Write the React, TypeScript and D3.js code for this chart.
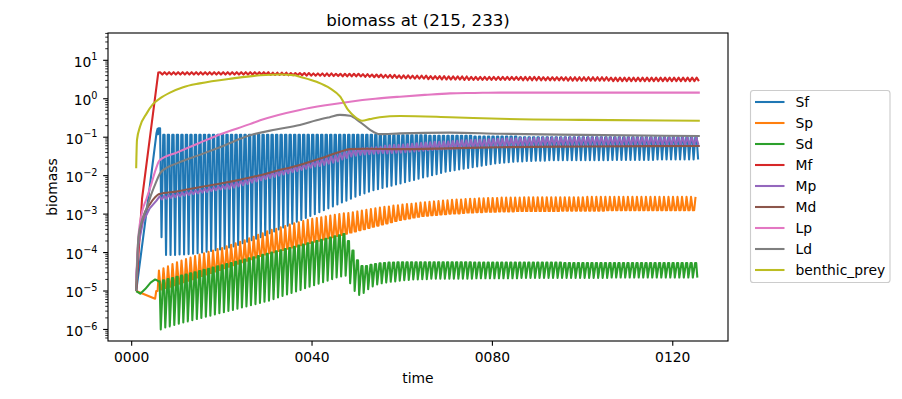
import React from "react";
import * as d3 from "d3";

// ---------- data (values are log10 of biomass) ----------
const seriesNames = ["Sf", "Sp", "Sd", "Mf", "Mp", "Md", "Lp", "Ld", "benthic_prey"];
const seriesColors = ["#1f77b4", "#ff7f0e", "#2ca02c", "#d62728", "#9467bd", "#8c564b", "#e377c2", "#7f7f7f", "#bcbd22"];
const xTickYears = [0, 40, 80, 120];
const xTickLabels = ["0000", "0040", "0080", "0120"];
const yTickExponents = [-6, -5, -4, -3, -2, -1, 0, 1];

const cycleStartYear = 6; // seasonal cycles: one high and one low value per year, years 6..125

// Sf
const sfLead = [[1.0, -5.0], [4.0, -2.3], [5.5, -0.9], [5.75, -0.78], [5.85, -0.92]];
const sfPeak = [
  -0.77, -0.94, -0.94, -0.94, -0.94, -0.94, -0.94, -0.94, -0.94, -0.94,
  -0.94, -0.94, -0.94, -0.94, -0.94, -0.94, -0.94, -0.94, -0.94, -0.94,
  -0.94, -0.94, -0.94, -0.94, -0.94, -0.94, -0.94, -0.94, -0.94, -0.94,
  -0.94, -0.94, -0.94, -0.94, -0.94, -0.94, -0.94, -0.94, -0.94, -0.94,
  -0.94, -0.94, -0.94, -0.94, -0.94, -0.94, -0.94, -0.94, -0.94, -0.94,
  -0.95, -0.95, -0.95, -0.95, -0.95, -0.95, -0.95, -0.95, -0.95, -0.95,
  -0.96, -0.96, -0.96, -0.96, -0.96, -0.96, -0.96, -0.96, -0.96, -0.96,
  -0.98, -0.98, -0.98, -0.98, -0.98, -0.98, -0.98, -0.98, -0.98, -0.98,
  -1.0, -1.0, -1.0, -1.0, -1.0, -1.0, -1.0, -1.0, -1.0, -1.0,
  -1.0, -1.0, -1.0, -1.0, -1.0, -1.0, -1.0, -1.0, -1.0, -1.0,
  -1.0, -1.0, -1.0, -1.0, -1.0, -1.0, -1.0, -1.0, -1.0, -1.0,
  -1.0, -1.0, -1.0, -1.0, -1.0, -1.0, -1.0, -1.0, -1.0, -1.0,
];
const sfTrough = [
  -3.6, -4.06, -4.06, -4.06, -4.05, -4.05, -4.04, -4.03, -4.02, -4.0,
  -3.98, -3.96, -3.94, -3.92, -3.9, -3.87, -3.84, -3.8, -3.76, -3.72,
  -3.68, -3.64, -3.6, -3.55, -3.5, -3.45, -3.4, -3.35, -3.3, -3.25,
  -3.2, -3.15, -3.1, -3.05, -3.0, -2.95, -2.9, -2.85, -2.8, -2.75,
  -2.7, -2.65, -2.6, -2.55, -2.5, -2.46, -2.42, -2.38, -2.35, -2.32,
  -2.29, -2.26, -2.23, -2.2, -2.17, -2.14, -2.11, -2.08, -2.05, -2.02,
  -1.99, -1.96, -1.93, -1.9, -1.88, -1.86, -1.84, -1.82, -1.8, -1.78,
  -1.76, -1.74, -1.72, -1.7, -1.68, -1.67, -1.66, -1.65, -1.64, -1.63,
  -1.63, -1.62, -1.62, -1.61, -1.61, -1.61, -1.6, -1.6, -1.6, -1.6,
  -1.6, -1.6, -1.6, -1.6, -1.6, -1.6, -1.6, -1.6, -1.6, -1.6,
  -1.59, -1.59, -1.59, -1.59, -1.59, -1.59, -1.59, -1.59, -1.59, -1.59,
  -1.58, -1.58, -1.58, -1.58, -1.58, -1.58, -1.58, -1.58, -1.58, -1.58,
];

// Sp
const spLead = [[1.0, -5.0], [5.2, -5.2]];
const spPeak = [
  -4.47, -4.41, -4.36, -4.3, -4.25, -4.21, -4.17, -4.13, -4.09, -4.05,
  -4.02, -3.98, -3.95, -3.91, -3.88, -3.84, -3.8, -3.76, -3.72, -3.68,
  -3.63, -3.59, -3.54, -3.5, -3.45, -3.41, -3.38, -3.34, -3.31, -3.27,
  -3.24, -3.21, -3.18, -3.15, -3.12, -3.1, -3.08, -3.06, -3.04, -3.02,
  -3.0, -2.98, -2.97, -2.95, -2.93, -2.91, -2.89, -2.87, -2.85, -2.83,
  -2.81, -2.8, -2.78, -2.77, -2.75, -2.74, -2.73, -2.72, -2.7, -2.69,
  -2.68, -2.67, -2.66, -2.65, -2.64, -2.63, -2.62, -2.62, -2.61, -2.6,
  -2.6, -2.59, -2.59, -2.58, -2.58, -2.58, -2.57, -2.57, -2.57, -2.57,
  -2.57, -2.56, -2.56, -2.56, -2.56, -2.56, -2.56, -2.56, -2.56, -2.56,
  -2.56, -2.56, -2.56, -2.56, -2.56, -2.55, -2.55, -2.55, -2.55, -2.55,
  -2.55, -2.55, -2.55, -2.55, -2.55, -2.55, -2.55, -2.55, -2.55, -2.55,
  -2.55, -2.55, -2.55, -2.55, -2.55, -2.55, -2.55, -2.55, -2.55, -2.55,
];
const spTrough = [
  -5.0, -4.96, -4.92, -4.89, -4.85, -4.81, -4.77, -4.73, -4.69, -4.65,
  -4.61, -4.57, -4.53, -4.49, -4.45, -4.41, -4.37, -4.33, -4.29, -4.25,
  -4.21, -4.17, -4.13, -4.09, -4.05, -4.02, -3.99, -3.96, -3.93, -3.9,
  -3.87, -3.84, -3.81, -3.78, -3.75, -3.72, -3.69, -3.66, -3.63, -3.6,
  -3.57, -3.54, -3.51, -3.48, -3.45, -3.42, -3.39, -3.36, -3.33, -3.3,
  -3.27, -3.24, -3.21, -3.18, -3.15, -3.13, -3.11, -3.09, -3.07, -3.05,
  -3.04, -3.03, -3.02, -3.01, -3.0, -2.99, -2.98, -2.98, -2.97, -2.96,
  -2.96, -2.95, -2.95, -2.94, -2.94, -2.94, -2.93, -2.93, -2.93, -2.93,
  -2.92, -2.92, -2.92, -2.92, -2.92, -2.92, -2.92, -2.92, -2.92, -2.92,
  -2.91, -2.91, -2.91, -2.91, -2.91, -2.91, -2.91, -2.91, -2.91, -2.91,
  -2.9, -2.9, -2.9, -2.9, -2.9, -2.9, -2.9, -2.9, -2.9, -2.9,
  -2.9, -2.9, -2.9, -2.9, -2.9, -2.9, -2.9, -2.9, -2.9, -2.9,
];

// Sd
const sdLead = [[1.0, -5.0], [1.9, -5.07], [3.0, -4.95], [4.2, -4.78], [5.2, -4.7], [5.6, -4.72]];
const sdPeak = [
  -4.75, -4.72, -4.69, -4.66, -4.63, -4.6, -4.57, -4.54, -4.51, -4.48,
  -4.45, -4.42, -4.39, -4.36, -4.33, -4.3, -4.27, -4.24, -4.21, -4.18,
  -4.15, -4.12, -4.09, -4.06, -4.03, -4.0, -3.97, -3.94, -3.91, -3.88,
  -3.85, -3.82, -3.79, -3.76, -3.73, -3.7, -3.67, -3.64, -3.61, -3.58,
  -3.55, -3.52, -3.7, -3.95, -4.2, -4.35, -4.35, -4.32, -4.3, -4.28,
  -4.27, -4.26, -4.26, -4.25, -4.25, -4.25, -4.25, -4.25, -4.25, -4.25,
  -4.25, -4.25, -4.25, -4.25, -4.25, -4.25, -4.25, -4.25, -4.25, -4.25,
  -4.26, -4.26, -4.26, -4.26, -4.26, -4.26, -4.26, -4.26, -4.26, -4.26,
  -4.26, -4.26, -4.26, -4.26, -4.26, -4.26, -4.26, -4.26, -4.26, -4.26,
  -4.27, -4.27, -4.27, -4.27, -4.27, -4.27, -4.27, -4.27, -4.27, -4.27,
  -4.27, -4.27, -4.27, -4.27, -4.27, -4.27, -4.27, -4.27, -4.27, -4.27,
  -4.27, -4.27, -4.27, -4.27, -4.27, -4.27, -4.27, -4.27, -4.27, -4.27,
];
const sdTrough = [
  -6.0, -5.95, -5.92, -5.88, -5.85, -5.82, -5.79, -5.76, -5.73, -5.7,
  -5.67, -5.64, -5.61, -5.58, -5.55, -5.52, -5.49, -5.46, -5.43, -5.4,
  -5.37, -5.34, -5.31, -5.28, -5.25, -5.21, -5.17, -5.13, -5.09, -5.05,
  -5.01, -4.97, -4.93, -4.89, -4.85, -4.81, -4.77, -4.73, -4.69, -4.65,
  -4.62, -4.6, -4.8, -5.0, -5.1, -5.05, -4.95, -4.88, -4.83, -4.8,
  -4.78, -4.76, -4.75, -4.73, -4.72, -4.71, -4.7, -4.7, -4.69, -4.69,
  -4.68, -4.68, -4.68, -4.68, -4.68, -4.68, -4.68, -4.68, -4.68, -4.68,
  -4.67, -4.67, -4.67, -4.67, -4.67, -4.67, -4.67, -4.67, -4.67, -4.67,
  -4.66, -4.66, -4.66, -4.66, -4.66, -4.66, -4.66, -4.66, -4.66, -4.66,
  -4.66, -4.66, -4.66, -4.66, -4.66, -4.66, -4.66, -4.66, -4.66, -4.66,
  -4.65, -4.65, -4.65, -4.65, -4.65, -4.65, -4.65, -4.65, -4.65, -4.65,
  -4.65, -4.65, -4.65, -4.65, -4.65, -4.65, -4.65, -4.65, -4.65, -4.65,
];

// Mf
const mfLead = [[1.0, -5.0], [2.3, -2.6], [5.9, 0.68]];
const mfPeak = [
  0.69, 0.69, 0.69, 0.69, 0.69, 0.69, 0.69, 0.69, 0.69, 0.69,
  0.69, 0.69, 0.69, 0.69, 0.69, 0.69, 0.69, 0.69, 0.69, 0.69,
  0.69, 0.69, 0.69, 0.69, 0.69, 0.68, 0.68, 0.68, 0.68, 0.67,
  0.67, 0.67, 0.67, 0.67, 0.66, 0.66, 0.66, 0.66, 0.66, 0.65,
  0.65, 0.65, 0.65, 0.65, 0.65, 0.64, 0.64, 0.63, 0.63, 0.63,
  0.62, 0.62, 0.62, 0.61, 0.61, 0.61, 0.6, 0.6, 0.6, 0.6,
  0.59, 0.59, 0.59, 0.59, 0.58, 0.58, 0.58, 0.58, 0.58, 0.57,
  0.57, 0.57, 0.57, 0.57, 0.57, 0.57, 0.57, 0.57, 0.57, 0.57,
  0.57, 0.57, 0.57, 0.57, 0.57, 0.56, 0.56, 0.56, 0.56, 0.56,
  0.56, 0.56, 0.56, 0.56, 0.56, 0.56, 0.56, 0.56, 0.56, 0.56,
  0.55, 0.55, 0.55, 0.55, 0.55, 0.55, 0.55, 0.55, 0.55, 0.55,
  0.55, 0.55, 0.55, 0.55, 0.55, 0.55, 0.55, 0.55, 0.55, 0.55,
];
const mfTrough = [
  0.63, 0.63, 0.63, 0.63, 0.63, 0.63, 0.63, 0.63, 0.63, 0.63,
  0.63, 0.63, 0.63, 0.63, 0.63, 0.63, 0.63, 0.63, 0.63, 0.63,
  0.63, 0.63, 0.63, 0.63, 0.62, 0.62, 0.62, 0.62, 0.61, 0.61,
  0.61, 0.61, 0.6, 0.6, 0.6, 0.6, 0.59, 0.59, 0.59, 0.59,
  0.58, 0.58, 0.58, 0.58, 0.58, 0.57, 0.57, 0.56, 0.56, 0.55,
  0.55, 0.54, 0.54, 0.53, 0.53, 0.53, 0.52, 0.52, 0.52, 0.51,
  0.51, 0.51, 0.5, 0.5, 0.5, 0.5, 0.5, 0.49, 0.49, 0.49,
  0.49, 0.49, 0.49, 0.49, 0.49, 0.49, 0.49, 0.49, 0.49, 0.49,
  0.48, 0.48, 0.48, 0.48, 0.48, 0.48, 0.48, 0.48, 0.48, 0.48,
  0.47, 0.47, 0.47, 0.47, 0.47, 0.47, 0.47, 0.47, 0.47, 0.47,
  0.46, 0.46, 0.46, 0.46, 0.46, 0.46, 0.46, 0.46, 0.46, 0.46,
  0.46, 0.46, 0.46, 0.46, 0.46, 0.46, 0.46, 0.46, 0.46, 0.46,
];

// Mp
const mpLead = [[1.0, -4.7], [1.5, -3.8], [2.5, -3.2], [4.0, -2.85], [5.5, -2.65]];
const mpPeak = [
  -2.54, -2.52, -2.5, -2.48, -2.46, -2.44, -2.42, -2.4, -2.38, -2.36,
  -2.34, -2.32, -2.3, -2.28, -2.26, -2.22, -2.19, -2.16, -2.13, -2.1,
  -2.06, -2.03, -2.0, -1.97, -1.94, -1.91, -1.88, -1.85, -1.82, -1.79,
  -1.76, -1.73, -1.7, -1.67, -1.64, -1.59, -1.56, -1.53, -1.5, -1.47,
  -1.42, -1.38, -1.34, -1.32, -1.3, -1.29, -1.28, -1.27, -1.26, -1.25,
  -1.22, -1.21, -1.2, -1.2, -1.19, -1.18, -1.17, -1.16, -1.15, -1.14,
  -1.13, -1.12, -1.12, -1.11, -1.11, -1.1, -1.09, -1.08, -1.08, -1.07,
  -1.07, -1.06, -1.06, -1.05, -1.05, -1.04, -1.04, -1.03, -1.03, -1.03,
  -1.02, -1.02, -1.02, -1.02, -1.02, -1.01, -1.01, -1.01, -1.01, -1.01,
  -1.0, -1.0, -1.0, -1.0, -1.0, -1.0, -1.0, -1.0, -1.0, -1.0,
  -1.0, -1.0, -1.0, -1.0, -1.0, -1.0, -1.0, -1.0, -1.0, -1.0,
  -1.0, -1.0, -1.0, -1.0, -1.0, -1.0, -1.0, -1.0, -1.0, -1.0,
];
const mpTrough = [
  -2.62, -2.6, -2.58, -2.56, -2.54, -2.52, -2.5, -2.48, -2.46, -2.44,
  -2.42, -2.4, -2.38, -2.36, -2.34, -2.34, -2.31, -2.28, -2.25, -2.22,
  -2.18, -2.15, -2.12, -2.09, -2.06, -2.03, -2.0, -1.97, -1.94, -1.91,
  -1.88, -1.85, -1.82, -1.79, -1.76, -1.75, -1.72, -1.69, -1.66, -1.63,
  -1.58, -1.54, -1.5, -1.48, -1.46, -1.45, -1.44, -1.43, -1.42, -1.41,
  -1.42, -1.41, -1.4, -1.4, -1.39, -1.38, -1.37, -1.36, -1.35, -1.34,
  -1.33, -1.32, -1.32, -1.31, -1.31, -1.3, -1.29, -1.28, -1.28, -1.27,
  -1.27, -1.26, -1.26, -1.25, -1.25, -1.24, -1.24, -1.23, -1.23, -1.23,
  -1.22, -1.22, -1.22, -1.22, -1.22, -1.21, -1.21, -1.21, -1.21, -1.21,
  -1.2, -1.2, -1.2, -1.2, -1.2, -1.2, -1.2, -1.2, -1.2, -1.2,
  -1.2, -1.2, -1.2, -1.2, -1.2, -1.2, -1.2, -1.2, -1.2, -1.2,
  -1.2, -1.2, -1.2, -1.2, -1.2, -1.2, -1.2, -1.2, -1.2, -1.2,
];

// smooth series: [year, log10 biomass]
const mdPoints = [[1.0, -5.0], [1.5, -3.7], [2.5, -3.1], [4, -2.75], [5.3, -2.55], [6.1, -2.48], [10, -2.41], [15, -2.3], [20, -2.2], [27, -2.03], [32, -1.88], [37.3, -1.72], [42, -1.55], [46.2, -1.38], [48.4, -1.31], [52, -1.3], [59.5, -1.31], [70, -1.29], [81.7, -1.26], [100, -1.24], [126, -1.23]];
const lpPoints = [[1.0, -4.7], [1.5, -3.6], [2.2, -3.0], [3.3, -2.6], [4.4, -2.2], [5.3, -1.85], [6.2, -1.6], [10, -1.4], [15, -1.15], [20, -0.91], [26.2, -0.66], [28.5, -0.56], [37.3, -0.29], [43, -0.17], [48.4, -0.076], [54, 0.0], [59.5, 0.054], [65, 0.1], [70.6, 0.14], [76, 0.15], [81.7, 0.16], [95, 0.16], [110, 0.16], [126, 0.16]];
const ldPoints = [[1.0, -5.0], [1.5, -3.6], [2.2, -3.2], [3.3, -2.85], [4.3, -2.5], [5.3, -2.2], [6.3, -1.94], [8, -1.78], [10, -1.68], [15.1, -1.46], [20, -1.24], [26.2, -0.95], [32, -0.8], [37.3, -0.68], [41, -0.56], [43.9, -0.48], [46.2, -0.42], [48.4, -0.44], [50.6, -0.6], [52.8, -0.8], [55, -0.92], [59.5, -0.9], [70.6, -0.88], [81.7, -0.91], [100, -0.94], [126, -0.97]];
const benthicPoints = [[1.0, -1.81], [1.18, -1.07], [1.84, -0.73], [3.33, -0.38], [4.72, -0.14], [6.28, 0.01], [8.5, 0.16], [11.4, 0.3], [15.1, 0.4], [22.5, 0.53], [28.5, 0.61], [33, 0.63], [36, 0.61], [37.3, 0.57], [41, 0.44], [44, 0.27], [46.2, 0.06], [48, -0.29], [49.5, -0.47], [51.1, -0.57], [52.8, -0.53], [55, -0.48], [59.5, -0.45], [70.6, -0.48], [81.7, -0.52], [100, -0.55], [126, -0.57]];

// ---------- helpers ----------
// Each year: the series holds its "plateau" value for part of the year and makes a short excursion to the "spike" value.
function seasonal(lead: number[][], plateau: number[], spike: number[], pStart: number, pEnd: number, sAt: number): number[][] {
  const pts: number[][] = lead.map((p) => [p[0], p[1]]);
  plateau.forEach((v, i) => {
    const yr = cycleStartYear + i;
    pts.push([yr + pStart, v]);
    pts.push([yr + pEnd, v]);
    pts.push([yr + sAt, spike[i]]);
  });
  return pts;
}
function zigzag(lead: number[][], hi: number[], lo: number[], hiOff: number, loOff: number): number[][] {
  const pts: number[][] = lead.map((p) => [p[0], p[1]]);
  const cyc: number[][] = [];
  hi.forEach((v, i) => cyc.push([cycleStartYear + i + hiOff, v]));
  lo.forEach((v, i) => cyc.push([cycleStartYear + i + loOff, v]));
  cyc.sort((a, b) => a[0] - b[0]);
  return pts.concat(cyc);
}

const FONT = "'DejaVu Sans', 'Liberation Sans', sans-serif";
const LW = 2.08;

export default function App() {
  const W = 902, H = 399;
  const L = 108, R = 728, T = 33, B = 341;
  const x = d3.scaleLinear().domain([-5.25, 132.25]).range([L, R]);
  const y = d3.scaleLog().domain([Math.pow(10, -6.3), Math.pow(10, 1.71)]).range([B, T]);

  const straight = d3.line<number[]>().x((d) => x(d[0])).y((d) => y(Math.pow(10, d[1])));
  const smooth = d3.line<number[]>().x((d) => x(d[0])).y((d) => y(Math.pow(10, d[1]))).curve(d3.curveMonotoneX);

  const paths = [
    straight(seasonal(sfLead, sfPeak, sfTrough, 0.0, 0.3, 0.62)),
    straight(seasonal(spLead, spTrough, spPeak, -0.55, -0.25, 0.05)),
    straight(seasonal(sdLead, sdPeak, sdTrough, -0.05, 0.2, 0.45)),
    straight(zigzag(mfLead, mfPeak, mfTrough, 0.3, 0.8)),
    straight(zigzag(mpLead, mpPeak, mpTrough, 0.2, 0.7)),
    smooth(mdPoints),
    smooth(lpPoints),
    smooth(ldPoints),
    smooth(benthicPoints),
  ];

  // minor ticks
  const [d0, d1] = y.domain();
  const minor: number[] = [];
  for (let k = -7; k <= 1; k++) {
    for (let m = 2; m <= 9; m++) {
      const v = m * Math.pow(10, k);
      if (v >= d0 && v <= d1) minor.push(v);
    }
  }

  const legX = 750.5, legY = 90.5, legW = 139.5, legH = 192;
  const rowH = 21;

  return (
    <svg width={W} height={H} style={{ position: "absolute", left: 0, top: 0, background: "#fff" }} fontFamily={FONT}>
      <rect x={0} y={0} width={W} height={H} fill="#fff" />
      <defs>
        <clipPath id="plotclip">
          <rect x={L} y={T} width={R - L} height={B - T} />
        </clipPath>
      </defs>
      <g clipPath="url(#plotclip)">
        {paths.map((d, i) => (
          <path key={i} d={d || ""} fill="none" stroke={seriesColors[i]} strokeWidth={LW} strokeLinejoin="round" />
        ))}
      </g>
      {/* spines */}
      <rect x={L} y={T} width={R - L} height={B - T} fill="none" stroke="#000" strokeWidth={1.11} />
      {/* x ticks */}
      {xTickYears.map((t, i) => (
        <g key={t}>
          <line x1={x(t)} x2={x(t)} y1={B} y2={B + 4.86} stroke="#000" strokeWidth={1.11} />
          <text x={x(t)} y={B + 20.5} fontSize={13.89} textAnchor="middle" fill="#000">{xTickLabels[i]}</text>
        </g>
      ))}
      {/* y ticks */}
      {yTickExponents.map((e) => {
        const yy = y(Math.pow(10, e));
        return (
          <g key={e}>
            <line x1={L - 4.86} x2={L} y1={yy} y2={yy} stroke="#000" strokeWidth={1.11} />
            <text x={L - 10.5} y={yy + 6.3} fontSize={13.89} textAnchor="end" fill="#000">
              10
              <tspan dy={-6.2} fontSize={9.72}>{e < 0 ? "\u2212" + Math.abs(e) : String(e)}</tspan>
            </text>
          </g>
        );
      })}
      {minor.map((v, i) => (
        <line key={"m" + i} x1={L - 2.78} x2={L} y1={y(v)} y2={y(v)} stroke="#000" strokeWidth={0.83} />
      ))}
      {/* labels */}
      <text x={(L + R) / 2} y={382.5} fontSize={13.89} textAnchor="middle" fill="#000">time</text>
      <text transform={`translate(56.5, ${(T + B) / 2}) rotate(-90)`} fontSize={13.89} textAnchor="middle" fill="#000">biomass</text>
      <text x={(L + R) / 2} y={25.5} fontSize={16.67} textAnchor="middle" fill="#000">biomass at (215, 233)</text>
      {/* legend */}
      <rect x={legX} y={legY} width={legW} height={legH} rx={2.8} ry={2.8} fill="#fff" fillOpacity={0.8} stroke="#cccccc" strokeWidth={1.11} />
      {seriesNames.map((n, i) => {
        const cy = 102 + i * rowH;
        return (
          <g key={n}>
            <line x1={755} x2={784.5} y1={cy} y2={cy} stroke={seriesColors[i]} strokeWidth={LW} />
            <text x={795.5} y={cy + 5} fontSize={13.89} fill="#000">{n}</text>
          </g>
        );
      })}
    </svg>
  );
}
